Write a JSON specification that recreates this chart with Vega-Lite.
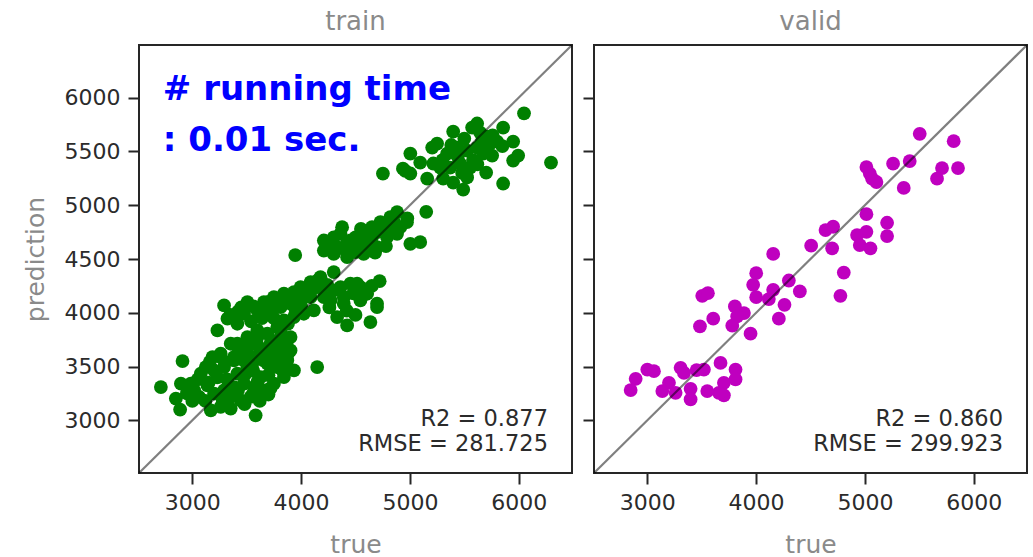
{
  "$schema": "https://vega.github.io/schema/vega-lite/v6.json",
  "padding": {"left": 22, "top": 7, "right": 5, "bottom": 0},
  "background": "white",
  "spacing": 6,
  "config": {
    "view": {"stroke": "#262626", "strokeWidth": 2},
    "font": "DejaVu Sans",
    "axis": {"grid": false, "domain": false, "tickColor": "#262626", "tickSize": 11, "tickWidth": 2, "labelColor": "#2b2b2b", "labelFontSize": 22, "labelFont": "DejaVu Sans", "titleFont": "DejaVu Sans", "titleFontSize": 25, "titleColor": "#8a8a8a", "titleFontWeight": "normal", "labelPadding": 8},
    "title": {"fontSize": 26, "color": "#8a8a8a", "fontWeight": "normal", "font": "DejaVu Sans", "offset": 9, "baseline": "alphabetic"}
  },
  "datasets": {
    "train": [
      {"actual":6049,"predicted":5855},{"actual":6297,"predicted":5397},{"actual":5004,"predicted":5480},{"actual":5095,"predicted":5397},{"actual":4958,"predicted":5320},{"actual":5004,"predicted":5295},{"actual":5398,"predicted":5685},{"actual":5572,"predicted":5722},{"actual":5618,"predicted":5760},{"actual":5646,"predicted":5675},{"actual":5857,"predicted":5722},{"actual":5949,"predicted":5592},{"actual":5995,"predicted":5462},{"actual":5949,"predicted":5415},{"actual":5802,"predicted":5592},{"actual":5710,"predicted":5638},{"actual":5737,"predicted":5573},{"actual":5205,"predicted":5536},{"actual":5250,"predicted":5573},{"actual":5342,"predicted":5480},{"actual":5434,"predicted":5536},{"actual":5526,"predicted":5508},{"actual":5618,"predicted":5536},{"actual":5673,"predicted":5480},{"actual":5756,"predicted":5462},{"actual":5462,"predicted":5388},{"actual":5554,"predicted":5350},{"actual":5370,"predicted":5350},{"actual":5279,"predicted":5350},{"actual":5215,"predicted":5388},{"actual":5159,"predicted":5248},{"actual":5306,"predicted":5248},{"actual":5398,"predicted":5211},{"actual":5490,"predicted":5146},{"actual":5701,"predicted":5304},{"actual":5857,"predicted":5202},{"actual":5526,"predicted":5258},{"actual":4752,"predicted":5294},{"actual":4936,"predicted":5340},{"actual":5150,"predicted":4939},{"actual":4976,"predicted":4877},
      {"actual":5300,"predicted":5420},{"actual":5440,"predicted":5450},{"actual":5580,"predicted":5420},{"actual":5660,"predicted":5590},{"actual":5500,"predicted":5620},{"actual":5380,"predicted":5560},{"actual":5480,"predicted":5300},{"actual":5620,"predicted":5380},{"actual":5760,"predicted":5650},{"actual":5850,"predicted":5550},
      {"actual":4882,"predicted":4935},{"actual":4820,"predicted":4889},{"actual":4729,"predicted":4842},{"actual":4652,"predicted":4796},{"actual":4591,"predicted":4749},{"actual":4561,"predicted":4672},{"actual":4607,"predicted":4610},{"actual":4698,"predicted":4610},{"actual":4790,"predicted":4703},{"actual":4882,"predicted":4734},{"actual":4973,"predicted":4842},{"actual":5004,"predicted":4641},{"actual":5095,"predicted":4657},{"actual":4912,"predicted":4796},{"actual":4756,"predicted":4784},{"actual":4377,"predicted":4796},{"actual":4362,"predicted":4737},{"actual":4209,"predicted":4672},{"actual":4209,"predicted":4579},{"actual":4300,"predicted":4548},{"actual":4392,"predicted":4594},{"actual":4453,"predicted":4672},{"actual":4499,"predicted":4564},{"actual":4285,"predicted":4641},{"actual":4423,"predicted":4517},{"actual":4575,"predicted":4548},{"actual":3946,"predicted":4537},{"actual":4722,"predicted":4294},{"actual":4300,"predicted":4378},{"actual":4178,"predicted":4331},{"actual":4087,"predicted":4285},{"actual":4453,"predicted":4270},{"actual":4545,"predicted":4238},{"actual":4607,"predicted":4177},{"actual":4698,"predicted":4084},{"actual":4545,"predicted":4115},{"actual":4392,"predicted":4145},{"actual":4300,"predicted":4208},{"actual":4209,"predicted":4145},{"actual":4362,"predicted":4238},
      {"actual":4250,"predicted":4590},{"actual":4330,"predicted":4610},{"actual":4420,"predicted":4650},{"actual":4500,"predicted":4700},{"actual":4550,"predicted":4620},{"actual":4650,"predicted":4700},{"actual":4700,"predicted":4750},{"actual":4800,"predicted":4800},{"actual":4850,"predicted":4850},{"actual":4680,"predicted":4560},{"actual":4780,"predicted":4620},{"actual":4300,"predicted":4700},{"actual":4450,"predicted":4560},{"actual":4550,"predicted":4780},
      {"actual":4480,"predicted":4180},{"actual":4420,"predicted":4020},{"actual":4560,"predicted":4160},{"actual":4650,"predicted":4250},{"actual":4260,"predicted":4050},{"actual":4500,"predicted":3980},
      {"actual":4515,"predicted":4270},{"actual":4698,"predicted":4053},{"actual":4637,"predicted":3913},{"actual":4423,"predicted":3882},{"actual":4331,"predicted":3960},{"actual":4392,"predicted":4084},{"actual":4270,"predicted":4115},{"actual":4178,"predicted":4238},{"actual":4087,"predicted":4270},{"actual":3995,"predicted":4238},{"actual":3934,"predicted":4192},{"actual":3842,"predicted":4177},{"actual":3750,"predicted":4145},{"actual":3658,"predicted":4099},{"actual":3506,"predicted":4099},{"actual":3292,"predicted":4068},{"actual":3323,"predicted":3945},{"actual":3231,"predicted":3836},{"actual":3414,"predicted":3898},{"actual":3475,"predicted":3991},{"actual":3598,"predicted":4022},{"actual":3720,"predicted":4022},{"actual":3812,"predicted":4053},{"actual":3903,"predicted":4084},{"actual":3995,"predicted":4115},{"actual":4087,"predicted":4145},{"actual":4117,"predicted":4022},{"actual":4025,"predicted":3991},{"actual":3934,"predicted":3960},{"actual":3842,"predicted":3929},{"actual":3781,"predicted":3867},{"actual":3690,"predicted":3805},{"actual":3598,"predicted":3836},{"actual":3506,"predicted":3774},{"actual":3414,"predicted":3712},{"actual":3781,"predicted":3743},{"actual":3903,"predicted":3774},{"actual":3690,"predicted":3650},{"actual":3842,"predicted":3620},{"actual":3261,"predicted":3588},{"actual":3383,"predicted":3557},{"actual":3536,"predicted":3588},{"actual":4148,"predicted":3495},
      {"actual":3350,"predicted":3980},{"actual":3450,"predicted":4050},{"actual":3560,"predicted":4060},{"actual":3650,"predicted":4050},{"actual":3700,"predicted":4100},{"actual":3780,"predicted":4120},{"actual":3860,"predicted":4130},{"actual":3950,"predicted":4150},{"actual":4040,"predicted":4200},{"actual":4120,"predicted":4230},{"actual":3640,"predicted":3950},{"actual":3540,"predicted":3920},{"actual":3950,"predicted":4020},{"actual":4000,"predicted":4060},{"actual":3420,"predicted":4010},{"actual":4240,"predicted":4260},{"actual":4150,"predicted":4300},{"actual":3880,"predicted":3900},{"actual":3750,"predicted":3950},
      {"actual":2711,"predicted":3309},{"actual":2910,"predicted":3551},{"actual":2849,"predicted":3202},{"actual":2888,"predicted":3100},{"actual":2895,"predicted":3341},{"actual":2986,"predicted":3341},{"actual":3078,"predicted":3434},{"actual":3062,"predicted":3217},{"actual":3170,"predicted":3093},{"actual":3261,"predicted":3124},{"actual":3353,"predicted":3109},{"actual":3445,"predicted":3186},{"actual":3582,"predicted":3046},{"actual":3185,"predicted":3588},{"actual":3261,"predicted":3620},{"actual":3124,"predicted":3495},{"actual":3200,"predicted":3464},{"actual":3292,"predicted":3495},{"actual":3383,"predicted":3588},{"actual":3445,"predicted":3650},{"actual":3506,"predicted":3681},{"actual":3598,"predicted":3774},{"actual":3812,"predicted":3836},{"actual":3873,"predicted":3743},{"actual":3903,"predicted":3650},{"actual":3934,"predicted":3464},{"actual":3842,"predicted":3402},{"actual":3750,"predicted":3341},{"actual":3658,"predicted":3279},{"actual":3567,"predicted":3309},{"actual":3475,"predicted":3341},{"actual":3383,"predicted":3309},{"actual":3292,"predicted":3279},{"actual":3200,"predicted":3248},{"actual":3353,"predicted":3217},{"actual":3536,"predicted":3217},{"actual":3628,"predicted":3402},{"actual":3506,"predicted":3495},{"actual":3414,"predicted":3434},{"actual":3690,"predicted":3527},{"actual":3781,"predicted":3495},{"actual":3750,"predicted":3620},{"actual":3658,"predicted":3650},{"actual":3567,"predicted":3588},{"actual":3475,"predicted":3557},{"actual":3812,"predicted":3681},{"actual":3873,"predicted":3557},{"actual":3353,"predicted":3712},{"actual":3017,"predicted":3279},{"actual":3139,"predicted":3325},
      {"actual":3150,"predicted":3350},{"actual":3230,"predicted":3400},{"actual":3320,"predicted":3380},{"actual":3420,"predicted":3280},{"actual":3480,"predicted":3420},{"actual":3560,"predicted":3460},{"actual":3600,"predicted":3360},{"actual":3700,"predicted":3420},{"actual":3720,"predicted":3300},{"actual":3620,"predicted":3180},{"actual":3480,"predicted":3150},{"actual":3280,"predicted":3180},{"actual":3120,"predicted":3180},{"actual":3050,"predicted":3380},{"actual":3160,"predicted":3540},{"actual":3300,"predicted":3540},{"actual":3420,"predicted":3620},{"actual":3550,"predicted":3520},{"actual":3650,"predicted":3560},{"actual":3780,"predicted":3590},{"actual":3880,"predicted":3620},{"actual":3720,"predicted":3720},{"actual":3600,"predicted":3700},{"actual":3500,"predicted":3630},{"actual":2950,"predicted":3250},{"actual":3000,"predicted":3180},{"actual":3380,"predicted":3250},{"actual":3560,"predicted":3250},{"actual":3830,"predicted":3460},{"actual":3700,"predicted":3240}
    ],
    "valid": [
      {"actual":5504,"predicted":5664},{"actual":5816,"predicted":5596},{"actual":5856,"predicted":5346},{"actual":5709,"predicted":5346},{"actual":5663,"predicted":5247},{"actual":5412,"predicted":5411},{"actual":5259,"predicted":5386},{"actual":5357,"predicted":5161},{"actual":5014,"predicted":5355},{"actual":5045,"predicted":5294},{"actual":5066,"predicted":5247},{"actual":5106,"predicted":5216},{"actual":5014,"predicted":4917},{"actual":5204,"predicted":4837},{"actual":5204,"predicted":4713},{"actual":5014,"predicted":4753},{"actual":4928,"predicted":4723},{"actual":4953,"predicted":4630},{"actual":5051,"predicted":4599},{"actual":4638,"predicted":4769},{"actual":4708,"predicted":4800},{"actual":4699,"predicted":4599},{"actual":4506,"predicted":4624},{"actual":4157,"predicted":4547},{"actual":4806,"predicted":4374},{"actual":4775,"predicted":4158},{"actual":4001,"predicted":4368},{"actual":3973,"predicted":4260},{"actual":4001,"predicted":4145},{"actual":4157,"predicted":4213},{"actual":4117,"predicted":4127},{"actual":4301,"predicted":4300},{"actual":4402,"predicted":4198},{"actual":4261,"predicted":4074},{"actual":4209,"predicted":3945},{"actual":3949,"predicted":3806},{"actual":3805,"predicted":4059},{"actual":3888,"predicted":3997},{"actual":3826,"predicted":3966},{"actual":3781,"predicted":3880},{"actual":3606,"predicted":3945},{"actual":3484,"predicted":3874},{"actual":3505,"predicted":4158},{"actual":3557,"predicted":4182},{"actual":3673,"predicted":3534},{"actual":3811,"predicted":3472},{"actual":3811,"predicted":3380},{"actual":3704,"predicted":3349},{"actual":3704,"predicted":3232},{"actual":3658,"predicted":3256},{"actual":3551,"predicted":3272},{"actual":3520,"predicted":3472},{"actual":3453,"predicted":3466},{"actual":3398,"predicted":3293},{"actual":3398,"predicted":3194},{"actual":3306,"predicted":3488},{"actual":3337,"predicted":3441},{"actual":3199,"predicted":3349},{"actual":3138,"predicted":3272},{"actual":3260,"predicted":3256},{"actual":3000,"predicted":3472},{"actual":3061,"predicted":3457},{"actual":2893,"predicted":3386},{"actual":2847,"predicted":3281}
    ]
  },
  "hconcat": [
    {
      "width": 433,
      "height": 428,
      "title": "train",
      "layer": [
        {
          "data": {"name": "train"},
          "mark": {"type": "circle", "size": 190, "color": "#008000", "opacity": 1},
          "encoding": {
            "x": {"field": "actual", "type": "quantitative", "scale": {"domain": [2510, 6490], "nice": false, "zero": false}, "axis": {"values": [3000, 4000, 5000, 6000], "format": "d", "title": "true", "titlePadding": 19}},
            "y": {"field": "predicted", "type": "quantitative", "scale": {"domain": [2510, 6490], "nice": false, "zero": false}, "axis": {"values": [3000, 3500, 4000, 4500, 5000, 5500, 6000], "format": "d", "title": "prediction", "titlePadding": 16}}
          }
        },
        {
          "data": {"values": [{}]},
          "mark": {"type": "rule", "color": "black", "opacity": 0.5, "strokeWidth": 2.2},
          "encoding": {"x": {"datum": 2510}, "y": {"datum": 2510}, "x2": {"datum": 6490}, "y2": {"datum": 6490}}
        },
        {
          "data": {"values": [{}]},
          "mark": {"type": "text", "text": "# running time", "font": "DejaVu Sans", "fontWeight": "bold", "fontSize": 34, "color": "#0000ff", "align": "left", "baseline": "alphabetic"},
          "encoding": {"x": {"datum": 2729}, "y": {"datum": 5982}}
        },
        {
          "data": {"values": [{}]},
          "mark": {"type": "text", "text": ": 0.01 sec.", "font": "DejaVu Sans", "fontWeight": "bold", "fontSize": 34, "color": "#0000ff", "align": "left", "baseline": "alphabetic"},
          "encoding": {"x": {"datum": 2729}, "y": {"datum": 5508}}
        },
        {
          "data": {"values": [{}]},
          "mark": {"type": "text", "text": "R2 = 0.877", "fontSize": 22.5, "color": "#2b2b2b", "align": "right", "baseline": "alphabetic"},
          "encoding": {"x": {"datum": 6269}, "y": {"datum": 2944}}
        },
        {
          "data": {"values": [{}]},
          "mark": {"type": "text", "text": "RMSE = 281.725", "fontSize": 22.5, "color": "#2b2b2b", "align": "right", "baseline": "alphabetic"},
          "encoding": {"x": {"datum": 6269}, "y": {"datum": 2712}}
        }
      ]
    },
    {
      "width": 433,
      "height": 428,
      "title": "valid",
      "layer": [
        {
          "data": {"name": "valid"},
          "mark": {"type": "circle", "size": 190, "color": "#bf00bf", "opacity": 1},
          "encoding": {
            "x": {"field": "actual", "type": "quantitative", "scale": {"domain": [2510, 6490], "nice": false, "zero": false}, "axis": {"values": [3000, 4000, 5000, 6000], "format": "d", "title": "true", "titlePadding": 19}},
            "y": {"field": "predicted", "type": "quantitative", "scale": {"domain": [2510, 6490], "nice": false, "zero": false}, "axis": {"values": [3000, 3500, 4000, 4500, 5000, 5500, 6000], "labels": false, "title": null}}
          }
        },
        {
          "data": {"values": [{}]},
          "mark": {"type": "rule", "color": "black", "opacity": 0.5, "strokeWidth": 2.2},
          "encoding": {"x": {"datum": 2510}, "y": {"datum": 2510}, "x2": {"datum": 6490}, "y2": {"datum": 6490}}
        },
        {
          "data": {"values": [{}]},
          "mark": {"type": "text", "text": "R2 = 0.860", "fontSize": 22.5, "color": "#2b2b2b", "align": "right", "baseline": "alphabetic"},
          "encoding": {"x": {"datum": 6269}, "y": {"datum": 2944}}
        },
        {
          "data": {"values": [{}]},
          "mark": {"type": "text", "text": "RMSE = 299.923", "fontSize": 22.5, "color": "#2b2b2b", "align": "right", "baseline": "alphabetic"},
          "encoding": {"x": {"datum": 6269}, "y": {"datum": 2712}}
        }
      ]
    }
  ]
}
